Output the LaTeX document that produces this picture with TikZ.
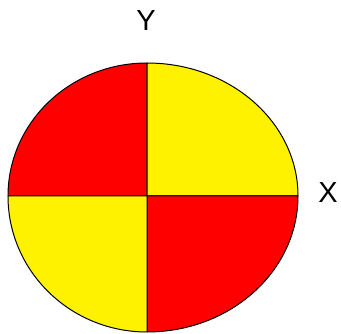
\documentclass[tikz,border=0pt]{standalone}
\usepackage{fontspec}
\setmainfont{Liberation Sans}
\begin{document}
\begin{tikzpicture}[x=1pt,y=-1pt,
  quad/.style={draw=black,line width=1pt,line join=round},
  redq/.style={quad,fill=red}, yelq/.style={quad,fill=yellow},
  axlbl/.style={font=\fontsize{29}{29}\selectfont,inner sep=0pt}]
\useasboundingbox (0,0) rectangle (341,334);
\coordinate (o) at (147,196);
\coordinate (l) at (8,196);
\coordinate (t) at (147,63);
\coordinate (r) at (298,196);
\coordinate (b) at (147,332);
% four quarters
\draw[redq] (o) -- (l) arc[start angle=180,end angle=270,x radius=139,y radius=133] -- cycle;
\draw[yelq] (o) -- (t) arc[start angle=270,end angle=360,x radius=151,y radius=133] -- cycle;
\draw[redq] (o) -- (r) arc[start angle=0,end angle=90,x radius=151,y radius=136] -- cycle;
\draw[yelq] (o) -- (b) arc[start angle=90,end angle=180,x radius=139,y radius=136] -- cycle;
\node[axlbl] (ylbl) at (146,21) {Y};
\node[axlbl] (xlbl) at (328,193) {X};
\end{tikzpicture}
\end{document}
